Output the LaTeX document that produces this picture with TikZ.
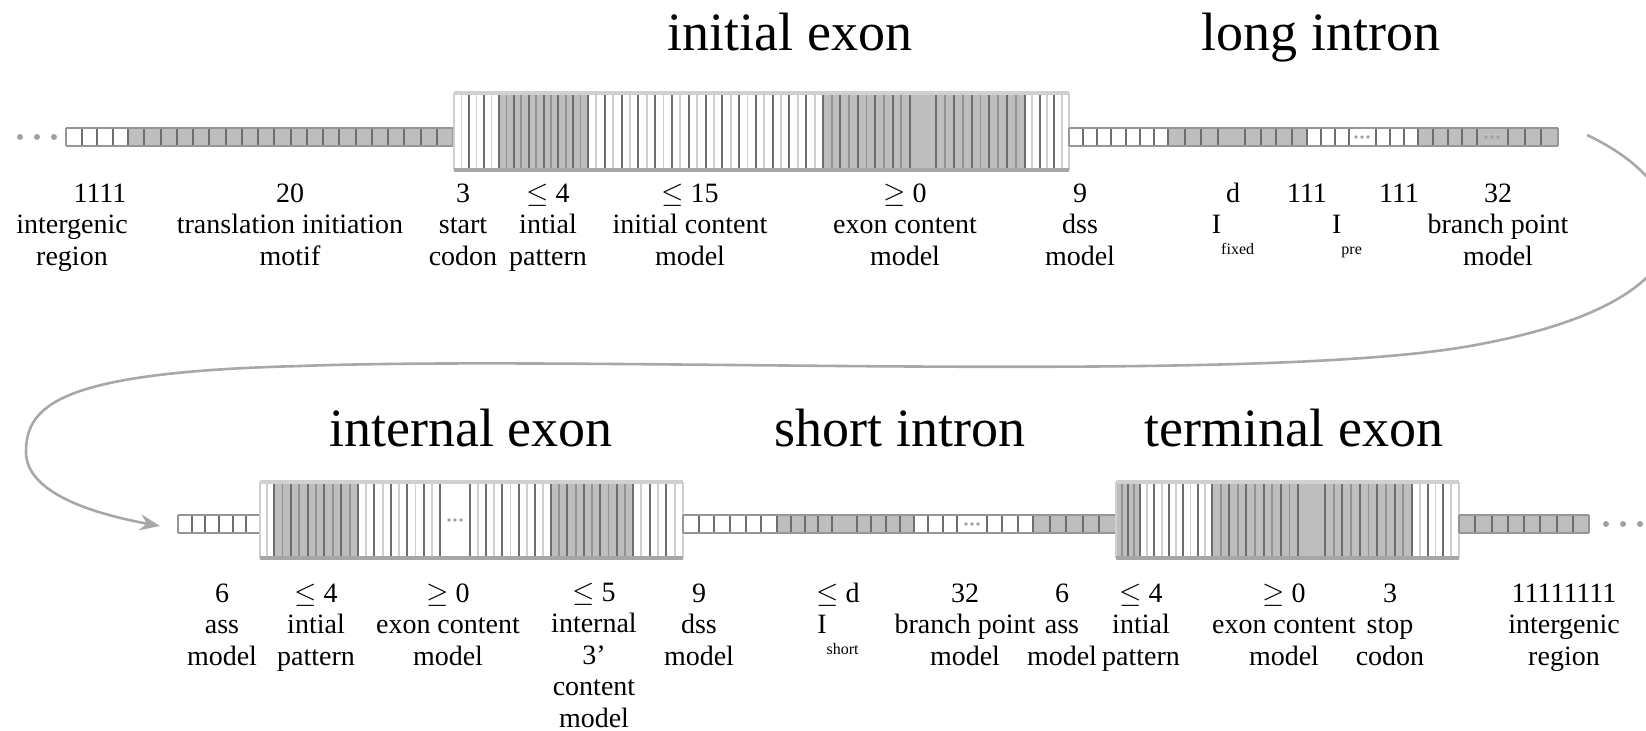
\documentclass[tikz,border=0pt]{standalone}
\usepackage{fontspec}
\setmainfont{Liberation Serif}
\usetikzlibrary{arrows.meta}

\definecolor{cellgray}{HTML}{BEBEBE}
\definecolor{divgray}{HTML}{6E6E6E}
\definecolor{framegray}{HTML}{D0D0D0}
\definecolor{framelow}{HTML}{A6A6A6}
\definecolor{midgray}{HTML}{939393}
\definecolor{paleline}{HTML}{CFCFCF}
\definecolor{stripedge}{HTML}{969696}
\definecolor{arrowgray}{HTML}{A8A8A8}
\definecolor{dotgray}{HTML}{A0A0A0}

% A run of #3 equal cells between x=#1 and x=#2, from y=#4 to y=#5,
% filled with #6, with an optional thin line (colour #7) inside each cell.
\newcommand\cellrow[7]{%
  \pgfmathsetmacro\cellw{(#2-#1)/#3}%
  \foreach \k in {1,...,#3}{%
    \fill[#6] ({#1+(\k-1)*\cellw},#4) rectangle ({#1+\k*\cellw},#5);
    \draw[draw=#7, line width=0.9pt] ({#1+(\k-0.5)*\cellw},#4) -- ({#1+(\k-0.5)*\cellw},#5);
  }%
  \foreach \k in {0,...,#3}{%
    \draw[divgray, line width=1pt] ({#1+\k*\cellw},#4) -- ({#1+\k*\cellw},#5);
  }%
}
% three small dots centred at (#1,#2)
\newcommand\gapdots[2]{%
  \foreach \d in {-6,0,6}{\fill[dotgray] ({#1+\d},#2) circle[radius=0.9pt];}%
}
% rims of a thin strip and of an exon box
\newcommand\striprim[4]{%
  \draw[stripedge, line width=1.4pt] (#1,#3) -- (#2,#3) (#1,#4) -- (#2,#4);
  \draw[stripedge, line width=1pt] (#1,#3) -- (#1,#4) (#2,#3) -- (#2,#4);
}
\newcommand\exonrim[4]{%
  \draw[framegray, line width=1pt] (#1,#3) -- (#1,#4) (#2,#3) -- (#2,#4);
  \draw[framegray, line width=2.4pt] (#1,#3) -- (#2,#3);
  \draw[framelow, line width=2pt] (#1,#4) -- (#2,#4);
}

\begin{document}
\begin{tikzpicture}[x=0.5pt,y=-0.5pt,
  lbl/.style={font=\fontsize{14}{15.75}\selectfont, align=center, anchor=base, inner sep=0pt},
  ttl/.style={font=\fontsize{27}{30}\selectfont, anchor=base, inner sep=0pt},
  flow/.style={draw=arrowgray, line width=1.3pt, -{Stealth[length=10pt,width=8pt]}}]
\useasboundingbox (0,0) rectangle (1646,730);
\clip (0,0) rectangle (1646,730);

% ---------------- first line: initial exon and long intron ----------------
\node[ttl] (t-init) at (790,50) {initial exon};
\node[ttl] (t-long) at (1321,50) {long intron};

% leading dots
\foreach \x in {20,37,54}{\fill[dotgray] (\x,137) circle[radius=1.5pt];}

% intergenic region + translation initiation motif
\cellrow{66}{128}{4}{128}{146}{white}{none}
\cellrow{128}{453}{20}{128}{146}{cellgray}{none}
\striprim{66}{453}{128}{146}

% initial exon
\cellrow{454}{499}{3}{93}{170}{white}{paleline}
\cellrow{499}{588}{6}{93}{170}{cellgray}{midgray}
\cellrow{588}{823}{14}{93}{170}{white}{paleline}
\cellrow{823}{910}{5}{93}{170}{cellgray}{midgray}
\cellrow{910}{936}{1}{93}{170}{cellgray}{none}
\cellrow{936}{1025}{5}{93}{170}{cellgray}{midgray}
\cellrow{1025}{1069}{3}{93}{170}{white}{paleline}
\exonrim{454}{1069}{93}{170}

% long intron
\cellrow{1069}{1168}{7}{128}{146}{white}{none}
\cellrow{1168}{1218}{3}{128}{146}{cellgray}{none}
\cellrow{1218}{1245}{1}{128}{146}{cellgray}{none}
\cellrow{1245}{1307}{4}{128}{146}{cellgray}{none}
\cellrow{1307}{1349}{3}{128}{146}{white}{none}
\cellrow{1349}{1376}{1}{128}{146}{white}{none}
\gapdots{1362}{137}
\cellrow{1376}{1418}{3}{128}{146}{white}{none}
\cellrow{1418}{1477}{4}{128}{146}{cellgray}{none}
\cellrow{1477}{1508}{1}{128}{146}{cellgray}{none}
\gapdots{1492}{137}
\cellrow{1508}{1558}{3}{128}{146}{cellgray}{none}
\striprim{1069}{1558}{128}{146}

% labels of the first line (y = baseline of the last line)
\node[lbl] (n-ig)   at (100,202) {1111};
\node[lbl] (l-ig)   at (72,265) {intergenic\\region};
\node[lbl] (l-tim)  at (290,265) {20\\translation initiation\\motif};
\node[lbl] (l-sc)   at (463,265) {3\\start\\codon};
\node[lbl] (l-ip)   at (548,265) {$\le$ 4\\intial\\pattern};
\node[lbl] (l-icm)  at (690,265) {$\le$ 15\\initial content\\model};
\node[lbl] (l-ecm)  at (905,265) {$\ge$ 0\\exon content\\model};
\node[lbl] (l-dss)  at (1080,265) {9\\dss\\model};
\node[lbl] (l-fix)  at (1233,233.5) {d\\I\raisebox{-1.6ex}{\fontsize{8}{8}\selectfont fixed}};
\node[lbl] (n-pre1) at (1307,202) {111};
\node[lbl] (n-pre2) at (1399,202) {111};
\node[lbl] (l-pre)  at (1347,233.5) {I\raisebox{-1.6ex}{\fontsize{8}{8}\selectfont pre}};
\node[lbl] (l-bp)   at (1498,265) {32\\branch point\\model};

% ---------------- second line: internal exon, short intron, terminal exon ----------------
\node[ttl] (t-int)  at (471,446) {internal exon};
\node[ttl] (t-short) at (900,446) {short intron};
\node[ttl] (t-term) at (1294,446) {terminal exon};

% ass model before the internal exon
\cellrow{178}{260}{6}{515}{533}{white}{none}
\striprim{178}{260}{515}{533}

% internal exon
\cellrow{260}{274}{1}{482}{558}{white}{paleline}
\cellrow{274}{358}{5}{482}{558}{cellgray}{midgray}
\cellrow{358}{440}{5}{482}{558}{white}{paleline}
\cellrow{440}{470}{1}{482}{558}{white}{none}
\gapdots{455}{520}
\cellrow{470}{551}{5}{482}{558}{white}{paleline}
\cellrow{551}{633}{5}{482}{558}{cellgray}{midgray}
\cellrow{633}{683}{3}{482}{558}{white}{paleline}
\exonrim{260}{683}{482}{558}

% short intron
\cellrow{683}{777}{6}{515}{533}{white}{none}
\cellrow{777}{832}{4}{515}{533}{cellgray}{none}
\cellrow{832}{857}{1}{515}{533}{cellgray}{none}
\cellrow{857}{914}{4}{515}{533}{cellgray}{none}
\cellrow{914}{957}{3}{515}{533}{white}{none}
\cellrow{957}{987}{1}{515}{533}{white}{none}
\gapdots{972}{524}
\cellrow{987}{1033}{3}{515}{533}{white}{none}
\cellrow{1033}{1116}{5}{515}{533}{cellgray}{none}
\striprim{683}{1116}{515}{533}

% terminal exon
\cellrow{1116}{1140}{2}{482}{558}{cellgray}{midgray}
\cellrow{1140}{1212}{5}{482}{558}{white}{paleline}
\cellrow{1212}{1298}{5}{482}{558}{cellgray}{midgray}
\cellrow{1298}{1325}{1}{482}{558}{cellgray}{none}
\cellrow{1325}{1412}{5}{482}{558}{cellgray}{midgray}
\cellrow{1412}{1459}{3}{482}{558}{white}{paleline}
\exonrim{1116}{1459}{482}{558}

% trailing intergenic region
\cellrow{1459}{1589}{8}{515}{533}{cellgray}{none}
\striprim{1459}{1589}{515}{533}
\foreach \x in {1606,1623,1640}{\fill[dotgray] (\x,524) circle[radius=1.5pt];}

% labels of the second line (y = baseline of the last line)
\node[lbl] (l-ass1) at (222,665) {6\\ass\\model};
\node[lbl] (l-ip2)  at (316,665) {$\le$ 4\\intial\\pattern};
\node[lbl] (l-ecm2) at (448,665) {$\ge$ 0\\exon content\\model};
\node[lbl] (l-i3)   at (594,727) {$\le$ 5\\internal\\3’\\content\\model};
\node[lbl] (l-dss2) at (699,665) {9\\dss\\model};
\node[lbl] (l-sh)   at (838,633.5) {$\le$ d\\I\raisebox{-1.6ex}{\fontsize{8}{8}\selectfont short}};
\node[lbl] (l-bp2)  at (965,665) {32\\branch point\\model};
\node[lbl] (l-ass2) at (1062,665) {6\\ass\\model};
\node[lbl] (l-ip3)  at (1141,665) {$\le$ 4\\intial\\pattern};
\node[lbl] (l-ecm3) at (1284,665) {$\ge$ 0\\exon content\\model};
\node[lbl] (l-stop) at (1390,665) {3\\stop\\codon};
\node[lbl] (l-ig2)  at (1564,665) {11111111\\intergenic\\region};

% the long intron continues into the ass model of the second line
\coordinate (intronEnd) at (1587,135);
\coordinate (assIn) at (160,526);
\draw[flow] (intronEnd) .. controls (1700,188) and (1730,300) .. (1470,346)
  .. controls (1250,385) and (600,355) .. (300,366)
  .. controls (60,372) and (26,405) .. (26,452)
  .. controls (26,495) and (100,515) .. (assIn);
\end{tikzpicture}
\end{document}
